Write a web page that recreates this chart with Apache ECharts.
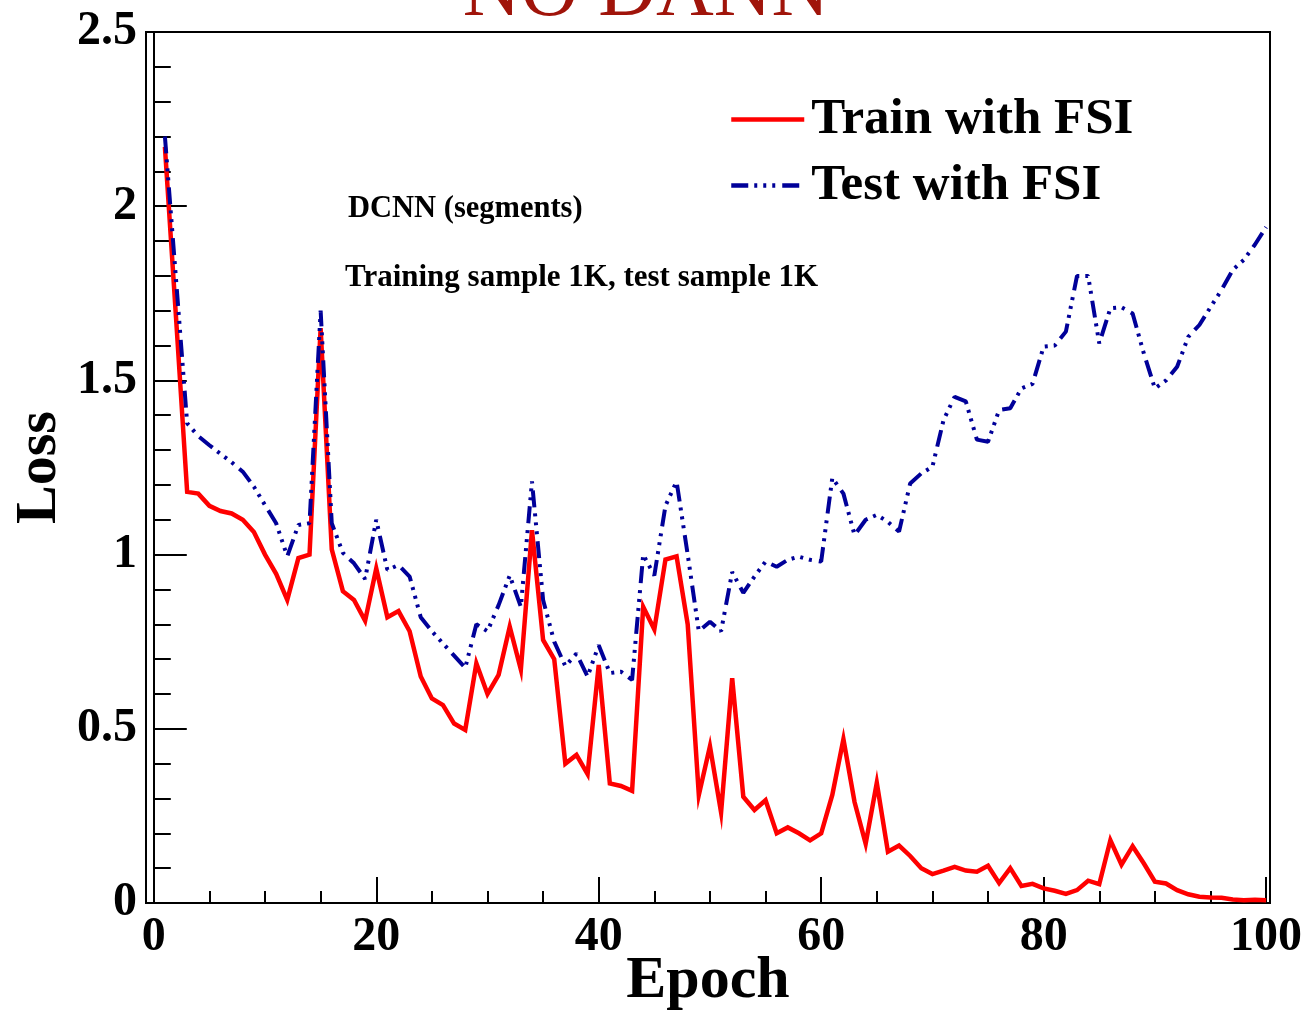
<!DOCTYPE html>
<html>
<head>
<meta charset="utf-8">
<script src="https://cdn.jsdelivr.net/npm/echarts@6/dist/echarts.min.js"></script>
<style>
html,body{margin:0;padding:0;background:#fff;}
#chart{width:1306px;height:1011px;}
</style>
</head>
<body>
<div id="chart"></div>
<script>
const epochs = [1,2,3,4,5,6,7,8,9,10,11,12,13,14,15,16,17,18,19,20,
  21,22,23,24,25,26,27,28,29,30,31,32,33,34,35,36,37,38,39,40,
  41,42,43,44,45,46,47,48,49,50,51,52,53,54,55,56,57,58,59,60,
  61,62,63,64,65,66,67,68,69,70,71,72,73,74,75,76,77,78,79,80,
  81,82,83,84,85,86,87,88,89,90,91,92,93,94,95,96,97,98,99,100];

const trainLoss = [2.17,1.68,1.18,1.175,1.14,1.125,1.118,1.10,1.065,1.00,
  0.945,0.87,0.99,1.00,1.65,1.015,0.895,0.87,0.81,0.96,
  0.82,0.838,0.78,0.65,0.587,0.568,0.515,0.497,0.688,0.60,
  0.655,0.793,0.67,1.07,0.755,0.70,0.40,0.425,0.37,0.683,
  0.343,0.336,0.322,0.85,0.785,0.986,0.995,0.80,0.31,0.45,
  0.26,0.645,0.305,0.267,0.295,0.20,0.217,0.20,0.18,0.20,
  0.31,0.47,0.29,0.17,0.345,0.147,0.165,0.135,0.10,0.083,
  0.093,0.104,0.093,0.09,0.107,0.057,0.10,0.049,0.055,0.042,
  0.035,0.026,0.037,0.064,0.054,0.18,0.11,0.163,0.114,0.061,
  0.056,0.037,0.025,0.018,0.016,0.015,0.01,0.008,0.009,0.008];

const testLoss = [2.20,1.79,1.377,1.34,1.314,1.289,1.265,1.238,1.195,1.142,
  1.09,0.995,1.085,1.09,1.70,1.09,1.005,0.975,0.93,1.10,
  0.956,0.97,0.937,0.82,0.78,0.745,0.71,0.675,0.80,0.78,
  0.855,0.94,0.85,1.21,0.87,0.75,0.68,0.716,0.65,0.74,
  0.66,0.664,0.64,1.00,0.94,1.14,1.21,1.00,0.78,0.807,
  0.78,0.95,0.89,0.937,0.98,0.965,0.985,0.994,0.985,0.98,
  1.22,1.175,1.056,1.10,1.114,1.094,1.066,1.204,1.233,1.252,
  1.386,1.453,1.44,1.33,1.324,1.415,1.42,1.477,1.49,1.597,
  1.60,1.64,1.80,1.80,1.606,1.707,1.71,1.692,1.578,1.477,
  1.50,1.539,1.625,1.659,1.71,1.76,1.817,1.846,1.89,1.94];

const xMajorTicks = [0,20,40,60,80,100];
const xMinorTicks = [5,10,15,25,30,35,45,50,55,65,70,75,85,90,95];
const seriesNames = ['Train with FSI','Test with FSI'];
const titleText = 'NO DANN';
const noteLines = ['DCNN (segments)','Training sample 1K, test sample 1K'];

const FONT = '"Liberation Serif","Times New Roman",serif';
const chart = echarts.init(document.getElementById('chart'), null, {renderer:'canvas'});

const option = {
  animation: false,
  backgroundColor: '#ffffff',
  grid: {left:146, right:36, top:32, bottom:108, containLabel:false, outerBoundsMode:'none',
         show:true, borderColor:'#000', borderWidth:2, backgroundColor:'transparent'},
  legend: {
    data: seriesNames,
    orient: 'vertical',
    left: 724, top: 89,
    itemWidth: 73, itemHeight: 14, itemGap: 15,
    itemStyle: {opacity: 0, color: 'transparent', borderWidth: 0},
    lineStyle: {width: 4.5},
    textStyle: {fontFamily: FONT, fontWeight:'bold', fontSize:51, color:'#000', padding:[0,0,0,2]}
  },
  xAxis: [{
    type:'value', min:-0.7, max:100.35,
    name:'Epoch', nameLocation:'middle', nameGap:48, nameMoveOverlap:false,
    nameTextStyle:{fontFamily:FONT, fontWeight:'bold', fontSize:60, color:'#000'},
    axisLine:{show:true, lineStyle:{color:'#000', width:2}},
    axisTick:{show:true, inside:true, length:26, customValues:xMajorTicks, lineStyle:{color:'#000', width:2}},
    axisLabel:{show:true, customValues:xMajorTicks, margin:11, fontFamily:FONT, fontWeight:'bold', fontSize:48, color:'#000'},
    splitLine:{show:false}
  },{
    type:'value', min:-0.7, max:100.35, position:'bottom',
    axisLine:{show:false},
    axisTick:{show:true, inside:true, length:12, customValues:xMinorTicks, lineStyle:{color:'#000', width:2}},
    axisLabel:{show:false},
    splitLine:{show:false}
  }],
  yAxis: {
    type:'value', min:0, max:2.5, interval:0.5,
    name:'Loss', nameLocation:'middle', nameGap:77, nameRotate:90, nameMoveOverlap:false,
    nameTextStyle:{fontFamily:FONT, fontWeight:'bold', fontSize:58, color:'#000'},
    axisLine:{show:true, lineStyle:{color:'#000', width:2}},
    axisTick:{show:true, inside:true, length:33, lineStyle:{color:'#000', width:2}},
    minorTick:{show:true, splitNumber:5, length:17, lineStyle:{color:'#000', width:2}},
    axisLabel:{margin:9, fontFamily:FONT, fontWeight:'bold', fontSize:48, color:'#000'},
    splitLine:{show:false}, minorSplitLine:{show:false}
  },
  series: [{
    name: seriesNames[0], type:'line', xAxisIndex:0,
    data: epochs.map((e,i)=>[e, trainLoss[i]]),
    showSymbol:false, symbol:'none',
    lineStyle:{color:'#ff0000', width:4.5, join:'miter'},
    itemStyle:{color:'#ff0000'},
    z: 2
  },{
    name: seriesNames[1], type:'line', xAxisIndex:0,
    data: epochs.map((e,i)=>[e, testLoss[i]]),
    showSymbol:false, symbol:'none',
    lineStyle:{color:'#000099', width:4, type:[17,6,3,6,3,6,3,7], cap:'butt'},
    itemStyle:{color:'#000099'},
    z: 3
  }],
  graphic: [
    {type:'text', x:646, y:-6, style:{text:titleText, font:'normal 80px '+FONT, fill:'#a0140a', textAlign:'center', textVerticalAlign:'middle'}},
    {type:'text', x:348, y:209, style:{text:noteLines[0], font:'bold 30.5px '+FONT, fill:'#000', textAlign:'left', textVerticalAlign:'middle'}},
    {type:'text', x:345, y:278, style:{text:noteLines[1], font:'bold 31px '+FONT, fill:'#000', textAlign:'left', textVerticalAlign:'middle'}}
  ]
};
chart.setOption(option);
</script>
</body>
</html>
